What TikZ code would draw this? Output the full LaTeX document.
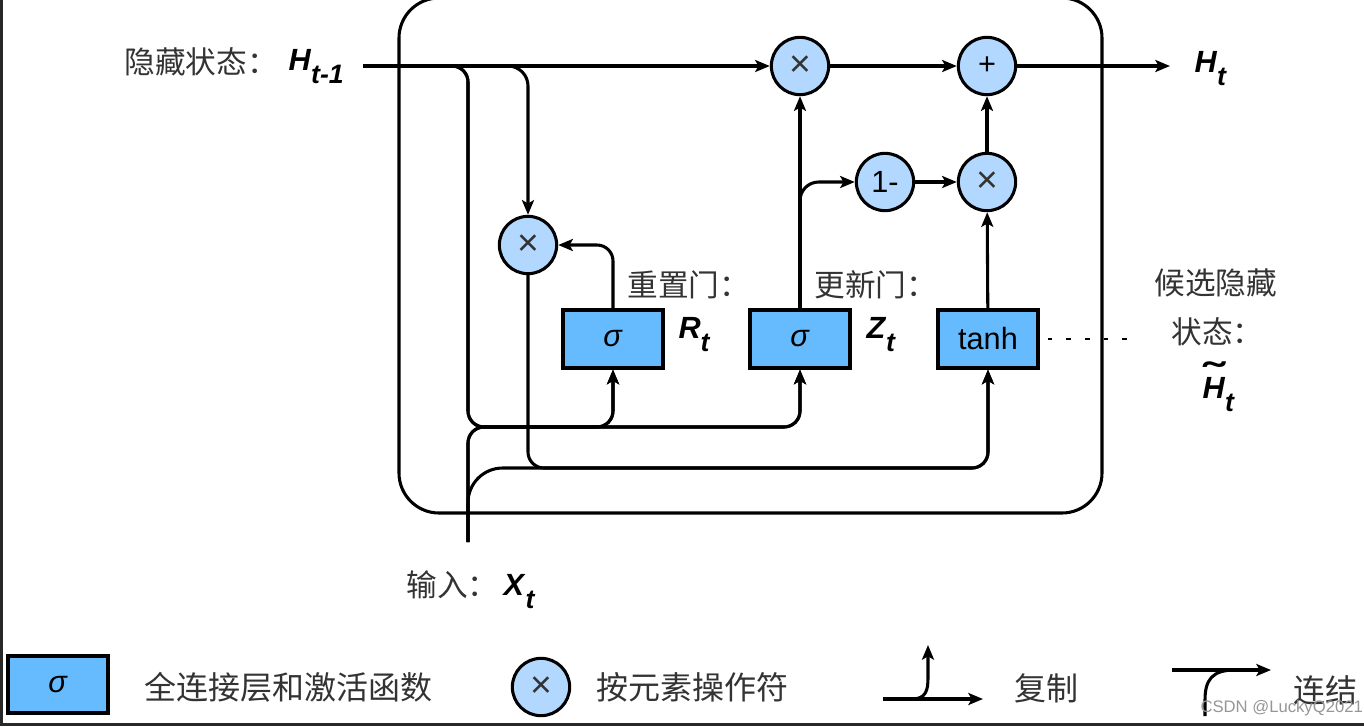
\documentclass[tikz,border=0pt]{standalone}
\usepackage{fontspec}
\usepackage{graphicx}
\setmainfont{Liberation Sans}
\newfontfamily\cjk{Noto Sans CJK SC}
\usetikzlibrary{arrows.meta}
\definecolor{boxblue}{RGB}{102,187,255}
\definecolor{circblue}{RGB}{178,216,255}
\definecolor{txtgray}{RGB}{51,51,51}
\definecolor{framegray}{RGB}{40,40,40}
\definecolor{wmgray}{RGB}{150,150,150}
\newcommand\fsz{\fontsize{23pt}{27pt}\selectfont}
\newcommand\lfsz{\fontsize{24pt}{28pt}\selectfont}
\newcommand\bi[1]{\textbf{\textit{#1}}}
\newcommand\sbs[1]{\raisebox{-0.45em}{\fontsize{20pt}{24pt}\selectfont\bi{#1}}}
\newcommand\tms{{\fontsize{28pt}{28pt}\selectfont\color{txtgray}×}}
\begin{document}
\begin{tikzpicture}[x=0.75pt,y=-0.75pt,
  line width=2.3pt,
  arr/.style={-{Stealth[length=11pt,width=9pt,inset=2.5pt]}},
  opc/.style={circle,draw,fill=circblue,minimum size=43pt,inner sep=0pt,font=\fsz},
  layer/.style={draw,fill=boxblue,minimum width=75pt,minimum height=43.5pt,inner sep=0pt,font=\fsz},
  zh/.style={font=\fsz\cjk,text=txtgray,inner sep=0pt,anchor=west},
  lzh/.style={font=\lfsz\cjk,text=txtgray,inner sep=0pt,anchor=west},
  var/.style={font=\fsz,inner sep=0pt,anchor=base west},
]
\useasboundingbox (0,0) rectangle (1364,726);
% frame
\draw[framegray, line width=2.5pt] (1,0) -- (1,726);
\draw[framegray, line width=2.5pt] (0,724.5) -- (1364,724.5);
% cell
\draw[rounded corners=30pt] (399,-2) rectangle (1102,513);

% nodes
\node[opc] (mul1) at (800,66) {\tms};
\node[opc] (add) at (987,66) {+};
\node[opc] (onem) at (885,182) {1-};
\node[opc] (mul2) at (987,182) {\tms};
\node[opc] (mulr) at (528,245) {\tms};
\node[layer] (boxR) at (613,339) {\textit{σ}};
\node[layer] (boxZ) at (800,339) {\textit{σ}};
\node[layer] (boxT) at (988,339) {tanh};
\coordinate (hprev) at (363,66);
\coordinate (hout) at (1170,66);
\coordinate (xin) at (468,542);
\coordinate (dotend) at (1135,339);

% labels
\node[zh] (lh) at (123,62) {隐藏状态：};
\node[var] (vh) at (287,70) {\bi{H}\sbs{t-1}};
\node[var] (vho) at (1193,72) {\bi{H}\sbs{t}};
\node[zh] (lr) at (626,285) {重置门：};
\node[var] (vr) at (677,338) {\bi{R}\sbs{t}};
\node[zh] (lz) at (813,285) {更新门：};
\node[var] (vz) at (865,338) {\bi{Z}\sbs{t}};
\node[zh] (lc1) at (1153,283) {候选隐藏};
\node[zh] (lc2) at (1170,332) {状态：};
\node[var] (vc) at (1201,398) {\bi{H}\sbs{t}};
\node[font=\fsz\bfseries, inner sep=0pt, anchor=base] (tl) at (1214,390) {\scalebox{2}[1.3]{\char"02DC}};
\node[zh] (lx) at (405,585) {输入：};
\node[var] (vx) at (502,595) {\bi{X}\sbs{t}};

% connectors
\draw[arr] (hprev) -- (mul1);
\draw[arr, rounded corners=12pt] (hprev) -| (468,427) -| (boxR.south);
\draw[arr, rounded corners=12pt] (hprev) -| (468,427) -| (boxZ.south);
\draw[arr, rounded corners=15pt] (hprev) -| (mulr.north);
\draw[arr, rounded corners=12pt] (xin) -- (468,427) -| (boxR.south);
\draw[arr, rounded corners=12pt] (xin) -- (468,427) -| (boxZ.south);
\draw[arr] (xin) [rounded corners=26pt] -- (468,468) [rounded corners=12pt] -- (988,468) -- (boxT.south);
\draw[arr, rounded corners=12pt] (mulr.south) -- (528,468) -| (boxT.south);
\draw[arr, rounded corners=12pt] (boxR.north) |- (mulr.east);
\draw[arr] (boxZ.north) -- (mul1.south);
\draw[arr, rounded corners=14pt] (boxZ.north) |- (onem.west);
\draw[arr] (onem) -- (mul2);
\draw[arr] (mul1) -- (add);
\draw[arr] (mul2) -- (add);
\draw[arr] (boxT) -- (mul2);
\draw[arr] (add) -- (hout);
\draw[line width=1.8pt, dash pattern=on 3.5pt off 10.5pt, dash phase=-6pt] (boxT.east) -- (dotend);

% legend
\node[layer, minimum height=42.75pt] (lgbox) at (58,684.5) {\textit{σ}};
\node[lzh] (lgt1) at (143,687) {全连接层和激活函数};
\node[opc] (lgc) at (541,687) {\tms};
\node[lzh] (lgt2) at (595,687) {按元素操作符};
\coordinate (c1) at (883,699);
\coordinate (c2) at (983,699);
\coordinate (c3) at (912,699);
\coordinate (c4) at (928,645);
\draw[arr] (c1) -- (c2);
\draw[arr] (c3) .. controls (926,699) and (928,690) .. (928,678) -- (c4);
\node[lzh] (lgt3) at (1013,688) {复制};
\coordinate (k1) at (1172,670);
\coordinate (k2) at (1271,670);
\coordinate (k3) at (1205,716);
\draw[arr] (k1) -- (k2);
\draw (k3) -- (1205,700) .. controls (1205,680) and (1212,670) .. (1235,670);
\node[lzh] (lgt4) at (1292,690) {连结};
\node[font=\fontsize{12.5pt}{14pt}\selectfont, text=wmgray, anchor=west, inner sep=0pt] (wm) at (1199,708) {CSDN @LuckyQ2021};
\end{tikzpicture}
\end{document}
